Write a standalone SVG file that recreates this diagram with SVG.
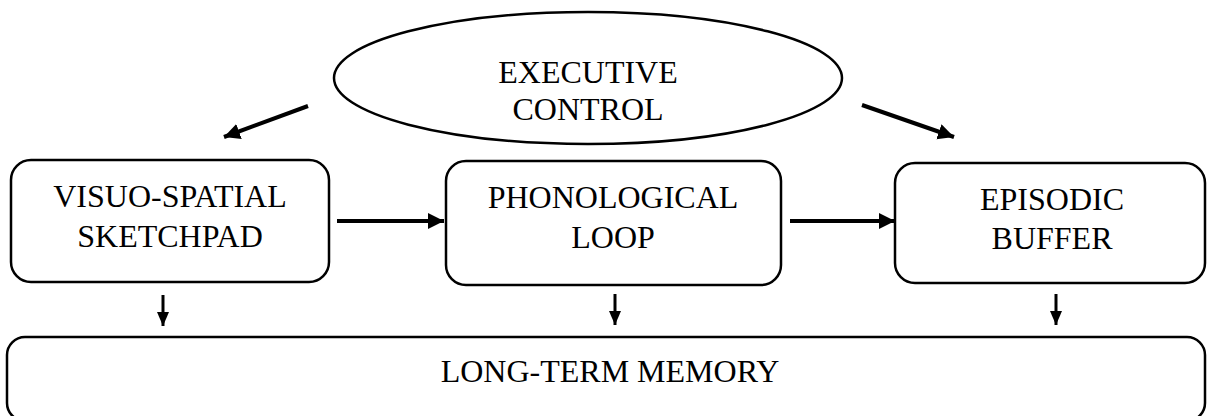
<svg xmlns="http://www.w3.org/2000/svg" width="1208" height="416" viewBox="0 0 1208 416">
  <style>
    .box { fill: #ffffff; stroke: #000000; stroke-width: 2.5; }
    .lbl { font-family: "Liberation Serif", "Times New Roman", serif; font-size: 32px; fill: #000000; text-anchor: middle; }
    .thick { stroke: #000000; stroke-width: 4; fill: none; }
    .thin { stroke: #000000; stroke-width: 3; fill: none; }
  </style>
  <defs>
    <marker id="headBig" markerUnits="userSpaceOnUse" markerWidth="18" markerHeight="18" refX="16" refY="8" orient="auto">
      <path d="M0,0 L16,8 L0,16 Z" fill="#000000"/>
    </marker>
    <marker id="headSmall" markerUnits="userSpaceOnUse" markerWidth="16" markerHeight="16" refX="14" refY="6" orient="auto">
      <path d="M0,0 L14,6 L0,12 Z" fill="#000000"/>
    </marker>
  </defs>
  <rect width="1208" height="416" fill="#ffffff"/>

  <g id="executive-control">
    <ellipse class="box" cx="588" cy="78" rx="254" ry="66"/>
    <text class="lbl" x="588" y="83">EXECUTIVE</text>
    <text class="lbl" x="588" y="120">CONTROL</text>
  </g>

  <g id="visuo-spatial-sketchpad">
    <rect class="box" x="11" y="160" width="318" height="122" rx="20"/>
    <text class="lbl" x="170" y="207">VISUO-SPATIAL</text>
    <text class="lbl" x="170" y="247">SKETCHPAD</text>
  </g>

  <g id="phonological-loop">
    <rect class="box" x="446" y="161" width="335" height="124" rx="20"/>
    <text class="lbl" x="613" y="208">PHONOLOGICAL</text>
    <text class="lbl" x="613" y="248">LOOP</text>
  </g>

  <g id="episodic-buffer">
    <rect class="box" x="895" y="163" width="310" height="120" rx="20"/>
    <text class="lbl" x="1052" y="210">EPISODIC</text>
    <text class="lbl" x="1052" y="249">BUFFER</text>
  </g>

  <g id="long-term-memory">
    <rect class="box" x="7" y="337" width="1198" height="84" rx="18"/>
    <text class="lbl" x="610" y="382">LONG-TERM MEMORY</text>
  </g>

  <g id="connectors">
    <line class="thick" x1="308" y1="106" x2="224" y2="137" marker-end="url(#headBig)"/>
    <line class="thick" x1="862" y1="105" x2="954" y2="137" marker-end="url(#headBig)"/>
    <line class="thick" x1="337" y1="221" x2="444" y2="221" marker-end="url(#headBig)"/>
    <line class="thick" x1="790" y1="221" x2="895" y2="221" marker-end="url(#headBig)"/>
    <line class="thin" x1="163" y1="295" x2="163" y2="326" marker-end="url(#headSmall)"/>
    <line class="thin" x1="615" y1="294" x2="615" y2="325" marker-end="url(#headSmall)"/>
    <line class="thin" x1="1056" y1="294" x2="1056" y2="325" marker-end="url(#headSmall)"/>
  </g>
</svg>
